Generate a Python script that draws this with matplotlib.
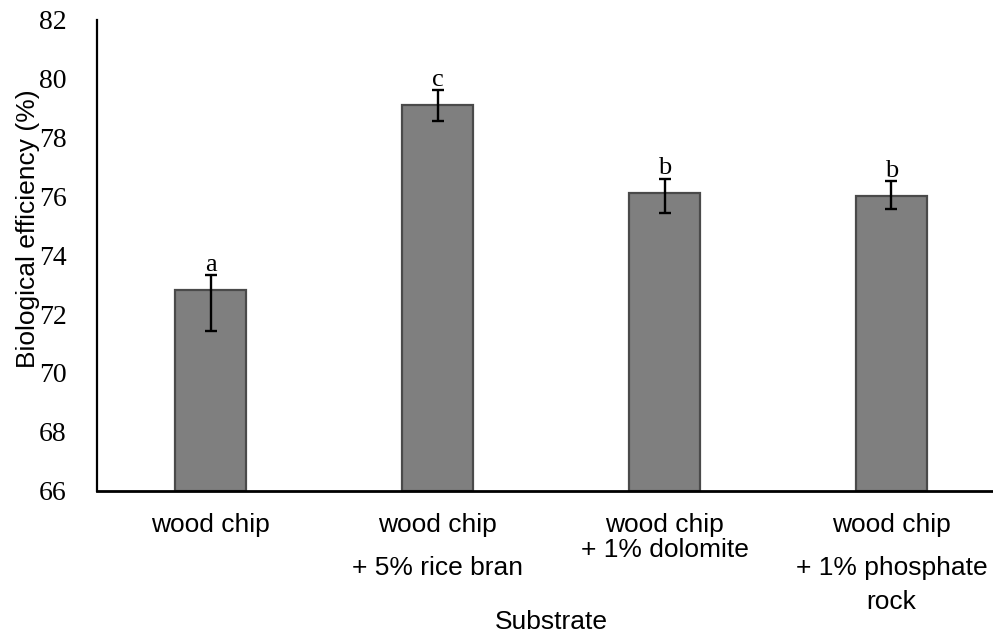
import matplotlib
matplotlib.use("Agg")
import matplotlib.pyplot as plt

# data
substrates = ["wood chip", "wood chip", "wood chip", "wood chip"]
extra_lines = [[], ["+ 5% rice bran"], ["+ 1% dolomite"], ["+ 1% phosphate", "rock"]]
extra_offsets = [[], [56], [43], [56, 80]]  # points below the x axis
efficiency = [72.83, 79.1, 76.1, 76.0]
err_upper = [0.5, 0.5, 0.5, 0.5]
err_lower = [1.42, 0.55, 0.67, 0.45]
letters = ["a", "c", "b", "b"]
yticks = [66, 68, 70, 72, 74, 76, 78, 80, 82]

sans = ["Liberation Sans", "DejaVu Sans"]
serif = ["Liberation Serif", "DejaVu Serif"]

fig = plt.figure(figsize=(9.93, 6.35), dpi=100)
ax = fig.add_axes([97 / 993, (635 - 490.7) / 635, 908 / 993, 471.2 / 635])

x = list(range(len(efficiency)))
ax.bar(x, [v - 66 for v in efficiency], bottom=66, width=0.31,
       color="#7f7f7f", edgecolor="#4a4a4a", linewidth=1.6, zorder=2)
ax.errorbar(x, efficiency, yerr=[err_lower, err_upper], fmt="none",
            ecolor="black", elinewidth=1.7, capsize=4.3, capthick=1.7, zorder=3)

for i, lt in enumerate(letters):
    ax.annotate(lt, xy=(i, efficiency[i] + err_upper[i]), xytext=(0, 3),
                textcoords="offset points", ha="center", va="baseline",
                fontsize=19, family=serif)

ax.set_xlim(-0.5, 3.5)
ax.set_ylim(66, 82)
ax.set_yticks(yticks)
ax.set_yticklabels([str(t) for t in yticks], family=serif, fontsize=20)
ax.tick_params(axis="y", length=0, pad=22)

ax.set_xticks(x)
ax.set_xticklabels([])
ax.tick_params(axis="x", length=0)
for i, name in enumerate(substrates):
    ax.annotate(name, xy=(i, 0), xycoords=("data", "axes fraction"),
                xytext=(0, -25), textcoords="offset points",
                ha="center", va="center", fontsize=19, family=sans)
    for line, off in zip(extra_lines[i], extra_offsets[i]):
        ax.annotate(line, xy=(i, 0), xycoords=("data", "axes fraction"),
                    xytext=(0, -off), textcoords="offset points",
                    ha="center", va="center", fontsize=19, family=sans)

ax.set_xlabel("Substrate", fontsize=19, family=sans)
ax.xaxis.set_label_coords(0.5, -0.2786)
ax.xaxis.label.set_va("center")
ax.set_ylabel("Biological efficiency (%)", fontsize=19, family=sans)
ax.yaxis.set_label_coords(-0.076, 0.555)
ax.yaxis.label.set_va("center")

for side in ["top", "right"]:
    ax.spines[side].set_visible(False)
ax.spines["left"].set_linewidth(1.6)
ax.spines["bottom"].set_linewidth(2)

fig.savefig("out.png", dpi=100)
